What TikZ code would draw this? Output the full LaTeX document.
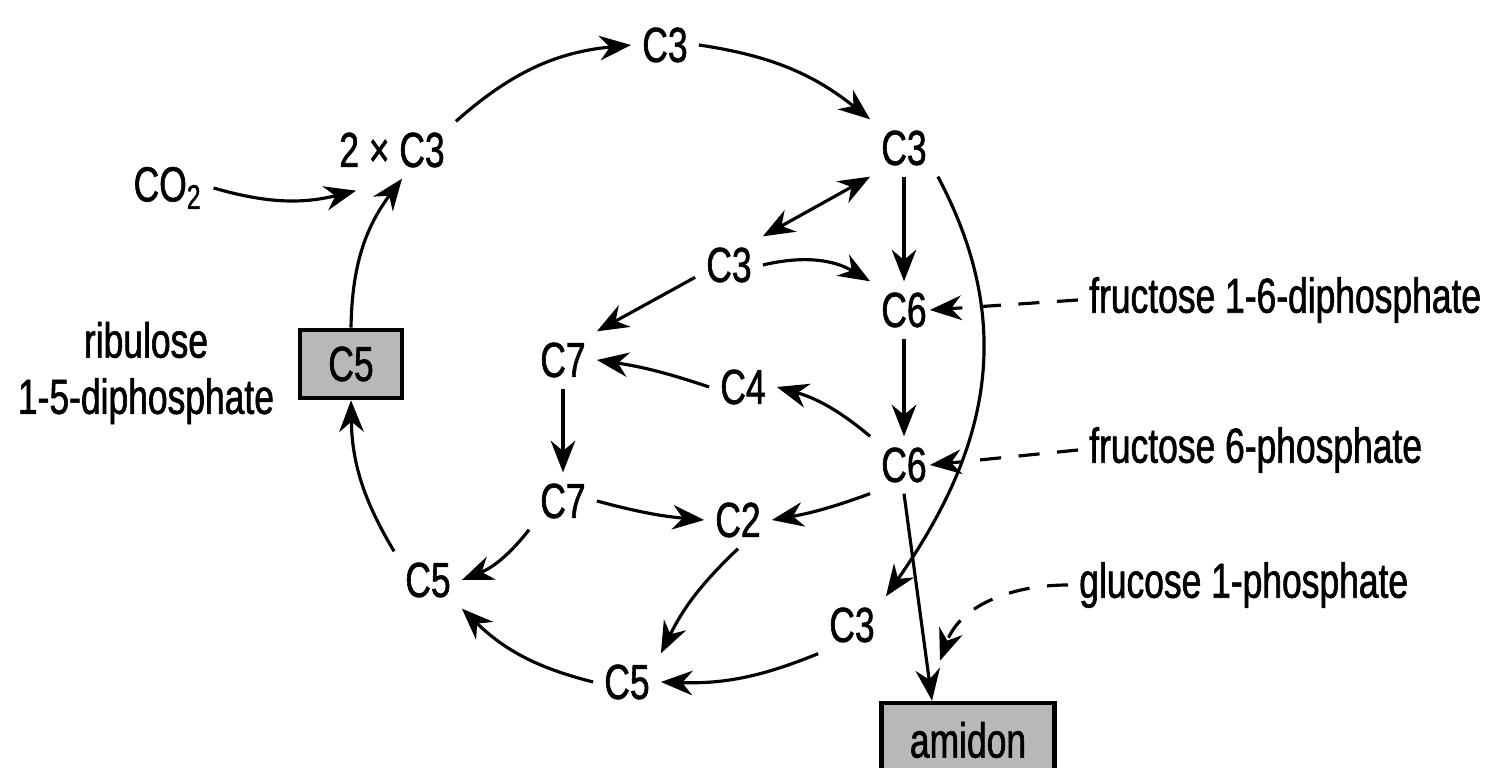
\documentclass[tikz,border=0pt]{standalone}
\usepackage{fontspec}
\setmainfont{Liberation Sans}[FakeStretch=0.72,FakeBold=1.2]
\usetikzlibrary{arrows.meta}

\begin{document}
\begin{tikzpicture}[
			mol/.style={
				inner sep=3pt,
				font=\fontsize{14}{16}\selectfont
			},
			molbox/.style={
				mol,
				draw=black,
				fill=black!28,
				line width=1.3pt,
				minimum width=1.02cm,
				minimum height=0.68cm
			},
			sidetext/.style={
				mol,
				align=center
			},
			flow/.style={
				-{Stealth[length=9pt,width=7pt]},
				line width=0.9pt
			},
			feed/.style={
				flow,
				dash pattern=on 6pt off 5pt
			}
			]
			\useasboundingbox (0,0) rectangle (15.01,7.68);
			
			% Calvin cycle, outer ring
			\node[mol] (c3top) at (6.65,7.23) {C3};
			\node[mol] (twoc3) at (3.92,6.18) {2 × C3};
			\node[mol] (co2) at (1.68,5.80) {CO\textsubscript{2}};
			\node[mol] (c3a) at (9.04,6.20) {C3};
			\node[mol] (c5a) at (4.28,1.88) {C5};
			\node[mol] (c5b) at (6.27,0.86) {C5};
			\node[mol] (c3c) at (8.52,1.43) {C3};
			\node[molbox] (rubp) at (3.51,4.04) {C5};
			\node[sidetext] (rubptext) at (1.46,3.95) {ribulose\\1-5-diphosphate};
			
			% Inner part
			\node[mol] (c3b) at (7.29,5.03) {C3};
			\node[mol] (c6a) at (9.04,4.58) {C6};
			\node[mol] (c7a) at (5.63,4.08) {C7};
			\node[mol] (c4) at (7.43,3.81) {C4};
			\node[mol] (c6b) at (9.04,3.03) {C6};
			\node[mol] (c7b) at (5.63,2.67) {C7};
			\node[mol] (c2) at (7.38,2.48) {C2};
			
			% Right side
			\node[molbox,minimum width=1.73cm,minimum height=0.74cm] (amidon) at (9.68,0.28) {amidon};
			\node[mol,anchor=west] (fdp) at (10.78,4.68) {fructose 1-6-diphosphate};
			\node[mol,anchor=west] (fmp) at (10.78,3.18) {fructose 6-phosphate};
			\node[mol,anchor=west] (gmp) at (10.68,1.83) {glucose 1-phosphate};
			
			% Ring
			\draw[flow] (twoc3.north east) to[bend left=18] (c3top.west);
			\draw[flow] (c3top.east) to[bend left=15] (c3a.north west);
			\draw[flow] (co2.east) to[bend right=15] ([xshift=0.28cm,yshift=-0.12cm]twoc3.south west);
			\draw[flow] (rubp.north) to[bend left=18] ([xshift=0.1cm]twoc3.south);
			\draw[flow] (c5a.north west) to[bend left=15] (rubp.south);
			\draw[flow] (c5b.west) to[bend left=15] (c5a.south east);
			\draw[flow] (c3c.south west) to[bend left=12] (c5b.east);
			\draw[flow] (c3a.south east) to[out=-62,in=55,looseness=1.05] (c3c.north east);
			
			% Inner reactions
			\draw[{Stealth[length=9pt,width=7pt]}-{Stealth[length=9pt,width=7pt]},line width=0.9pt] (c3b.north east) -- (c3a.south west);
			\draw[flow] (c3a) -- (c6a);
			\draw[flow] (c3b.east) to[bend left=22] (c6a.north west);
			\draw[flow] (c3b.200) -- (c7a.north east);
			\draw[flow] (c6a) -- (c6b);
			\draw[flow] (c4.west) to[bend right=5] (c7a.east);
			\draw[flow] (c6b.north west) to[bend right=12] (c4.east);
			\draw[flow] (c7a) -- (c7b);
			\draw[flow] (c7b.east) to[bend right=5] (c2.west);
			\draw[flow] (c6b.south west) to[bend left=5] (c2.east);
			\draw[flow] (c7b.south west) to[bend left=15] (c5a.east);
			\draw[flow] (c2.south) to[bend right=10] (c5b.north east);
			\draw[flow] (c6b.south) -- ([xshift=-0.36cm]amidon.north);
			
			% Phosphates
			\draw[feed] (fdp.west) -- ([xshift=-0.08cm]c6a.east);
			\draw[feed] (fmp.west) -- ([xshift=-0.08cm]c6b.east);
			\draw[feed] (gmp.west) to[out=180,in=70] ([xshift=-0.28cm,yshift=0.40cm]amidon.north);
			
		\end{tikzpicture}
\end{document}
